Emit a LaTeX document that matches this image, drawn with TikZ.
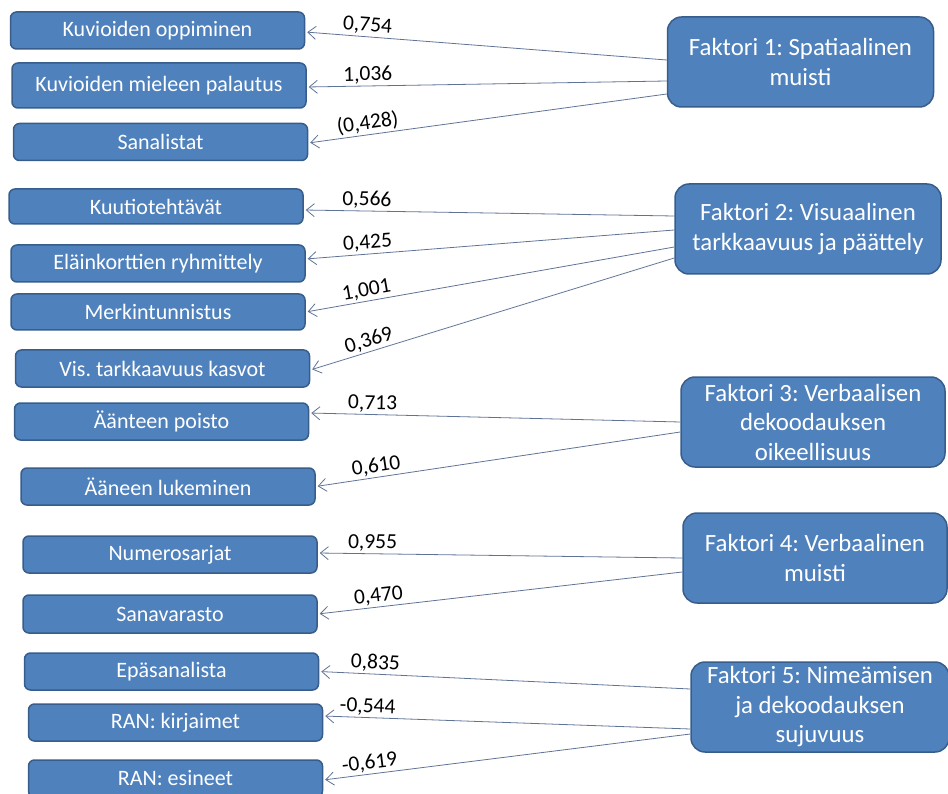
\documentclass[tikz,border=0pt]{standalone}
\usepackage{fontspec}
\setmainfont{Carlito}
\usetikzlibrary{arrows.meta}
\definecolor{boxfill}{RGB}{79,129,189}
\definecolor{boxline}{RGB}{56,93,138}
\definecolor{linecol}{RGB}{95,115,150}
\frenchspacing

\begin{document}
\begin{tikzpicture}[x=1pt, y=-1pt,
testnode/.style={rectangle, rounded corners=6pt, draw=boxline, fill=boxfill, line width=1.5pt, minimum width=294pt, minimum height=37pt, inner sep=0pt, text=white, font=\fontsize{22}{26}\selectfont},
factornode/.style={rectangle, rounded corners=14pt, draw=boxline, fill=boxfill, line width=1.5pt, minimum width=266pt, minimum height=90pt, inner sep=0pt, align=center, text=white, font=\fontsize{24.8}{29.5}\selectfont},
loading/.style={draw=linecol, line width=0.8pt, -{Straight Barb[length=8pt,width=13pt]}, shorten >=2pt},
loadval/.style={sloped, above, pos=0.83, inner sep=2pt, text=black, font=\fontsize{21.5}{25}\selectfont}
]
    \useasboundingbox (0,0) rectangle (948,794);

    \node[testnode] (k1) at (157.5,30.5){Kuvioiden oppiminen};
    \node[testnode, minimum height=45pt] (k2) at (159,85.5){Kuvioiden mieleen palautus};
    \node[testnode] (k3) at (160.5,142){Sanalistat};
    \node[testnode, minimum height=35pt] (k4) at (156,206.5){Kuutiotehtävät};
    \node[testnode] (k5) at (158,263.5){Eläinkorttien ryhmittely};
    \node[testnode, minimum height=36pt] (k6) at (158,312){Merkintunnistus};
    \node[testnode] (k7) at (162.5,368.5){Vis. tarkkaavuus kasvot};
    \node[testnode] (k8) at (161.5,421.5){Äänteen poisto};
    \node[testnode] (k9) at (168,486.5){Ääneen lukeminen};
    \node[testnode] (k10) at (170,554.5){Numerosarjat};
    \node[testnode, minimum height=38pt] (k11) at (170,614){Sanavarasto};
    \node[testnode] (k12) at (171.5,671.5){Epäsanalista};
    \node[testnode] (k13) at (175.5,722.5){RAN: kirjaimet};
    \node[testnode] (k14) at (175.5,778.5){RAN: esineet};

    \node[factornode] (f1) at (800.5,62){Faktori 1: Spatiaalinen\\muisti};
    \node[factornode] (f2) at (808,229){Faktori 2: Visuaalinen\\tarkkaavuus ja päättely};
    \node[factornode, minimum width=264pt] (f3) at (813,422){Faktori 3: Verbaalisen\\dekoodauksen\\oikeellisuus};
    \node[factornode, minimum width=264pt] (f4) at (815,558){Faktori 4: Verbaalinen\\muisti};
    \node[factornode, minimum width=258pt] (f5) at (820,707){Faktori 5: Nimeämisen\\ja dekoodauksen\\sujuvuus};

    \draw[loading] ([yshift=2pt]f1.west) -- node[loadval] {0,754} ([yshift=-1.5pt]k1.east);
    \draw[loading] ([yshift=-19pt]f1.west) -- node[loadval] {1,036} ([yshift=-1.5pt]k2.east);
    \draw[loading] ([yshift=-32pt]f1.west) -- node[loadval] {(0,428)} ([yshift=-1pt]k3.east);

    \draw[loading] ([yshift=13pt]f2.west) -- node[loadval] {0,566} ([yshift=-3.5pt]k4.east);
    \draw[loading] ([yshift=-1pt]f2.west) -- node[loadval] {0,425} ([yshift=4.5pt]k5.east);
    \draw[loading] ([yshift=-18pt]f2.west) -- node[loadval] {1,001} (k6.east);
    \draw[loading] ([yshift=-29pt]f2.west) -- node[loadval] {0,369} ([yshift=-1.5pt]k7.east);

    \draw[loading] (f3.west) -- node[loadval] {0,713} ([yshift=8.5pt]k8.east);
    \draw[loading] ([yshift=-10pt]f3.west) -- node[loadval] {0,610} (k9.east);

    \draw[loading] (f4.west) -- node[loadval, pos=0.85] {0,955} ([yshift=1.5pt]k10.east);
    \draw[loading] ([yshift=-14pt]f4.west) -- node[loadval] {0,470} (k11.east);

    \draw[loading] ([yshift=18pt]f5.west) -- node[loadval, pos=0.85] {0,835} (k12.east);
    \draw[loading] ([yshift=-22pt]f5.west) -- node[loadval, pos=0.88] {-0,544} ([yshift=6.5pt]k13.east);
    \draw[loading] ([yshift=-27pt]f5.west) -- node[loadval, pos=0.87] {-0,619} ([yshift=-1.5pt]k14.east);
\end{tikzpicture}
\end{document}
